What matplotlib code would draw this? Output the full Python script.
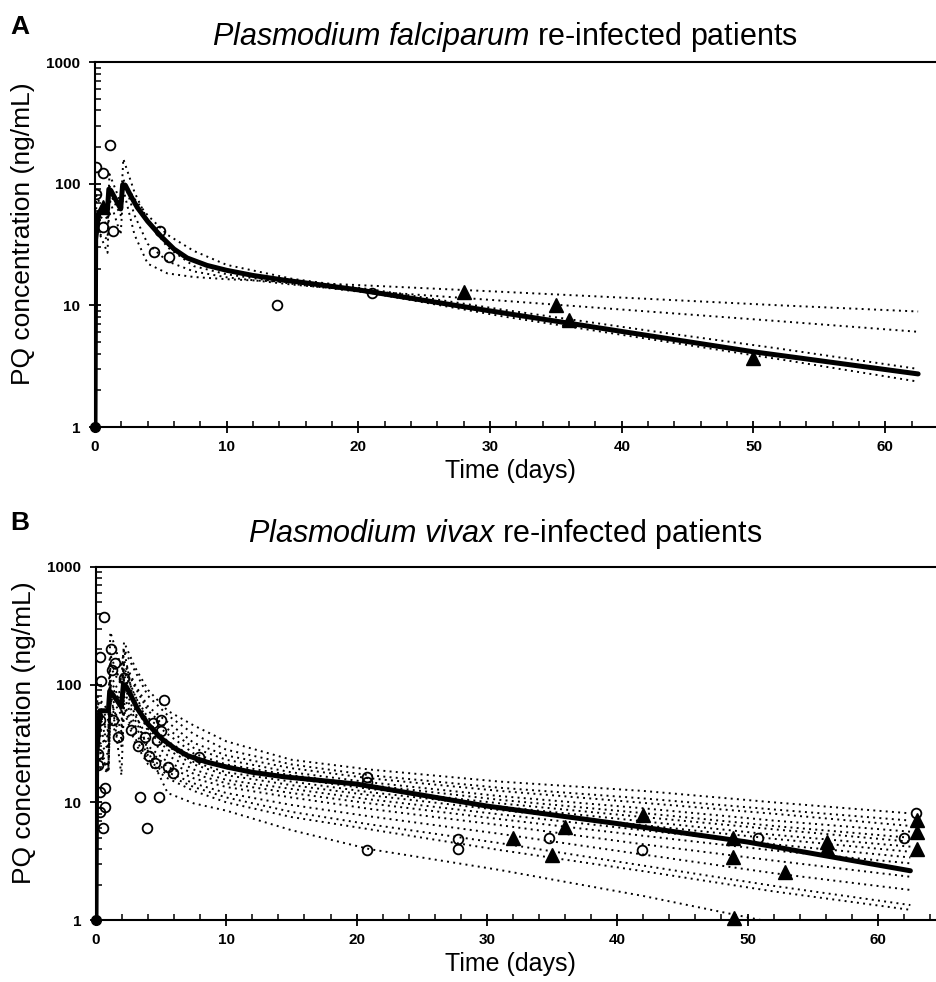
import matplotlib
matplotlib.use("Agg")
import matplotlib.pyplot as plt
from matplotlib.ticker import LogLocator, FixedLocator, NullFormatter, MultipleLocator

plt.rcParams["font.family"] = ["Liberation Sans", "DejaVu Sans"]
plt.rcParams["mathtext.fontset"] = "custom"
plt.rcParams["mathtext.it"] = "Liberation Sans:italic"
plt.rcParams["mathtext.rm"] = "Liberation Sans"

# knot times shared by the individual (dotted) curves
T_IND = [0, 0.1, 0.95, 1.1, 1.95, 2.15, 3, 4, 5.5, 7.5, 10, 15, 21, 31, 42, 52, 62.5]
# knot times for the population mean curve
T_MEAN = [0, 0.05, 0.3, 0.95, 1.05, 1.2, 1.95, 2.1, 2.3, 2.7, 3.2, 4, 5, 6, 7, 8.5,
          10, 12, 14.4, 20, 30, 40, 50, 62.5]

# ---- panel A: P. falciparum ----
A_MEAN = [1, 35, 58, 62, 90, 88, 62, 98, 97, 80, 64, 49, 37, 29, 24.5, 21.3,
          19.4, 17.6, 16.1, 13.4, 9.0, 6.1, 4.15, 2.73]
A_IND = [
    [1, 45, 27, 75, 38, 90, 38, 22, 18.3, 17.1, 16.4, 15.5, 14.5, 12.9, 11.3, 10.0, 8.9],
    [1, 80, 50, 120, 70, 110, 55, 32, 23, 19, 17, 14.8, 13.0, 10.9, 8.9, 7.4, 6.06],
    [1, 60, 45, 95, 60, 160, 85, 50, 30, 21, 18, 15, 12.6, 8.1, 5.3, 3.6, 2.36],
    [1, 40, 35, 85, 55, 105, 75, 55, 38, 28, 21.5, 16.5, 13.5, 9.2, 6.2, 4.4, 3.0],
]
A_CIRC_T = [0.1, 0.1, 0.6, 1.14, 0.6, 1.4, 4.9, 4.5, 5.6, 13.8, 21]
A_CIRC_C = [138, 83, 122, 207, 44, 41, 41, 27.5, 25, 10, 12.6]
A_TRI_T = [0.6, 28, 35, 36, 50]
A_TRI_C = [64, 12.9, 10, 7.6, 3.7]

# ---- panel B: P. vivax ----
B_MEAN = [1, 25, 60, 60, 88, 85, 65, 100, 97, 80, 62, 46, 35, 29, 25, 22,
          20, 18, 16.5, 14.3, 9.3, 6.6, 4.6, 2.62]
B_IND = [
    [1, 70, 50, 150, 110, 230, 140, 90, 60, 45, 33, 23, 19, 15, 12.5, 10, 8.06],
    [1, 80, 60, 280, 140, 200, 130, 80, 55, 38, 28, 21, 17, 13.3, 10.8, 8.7, 7.0],
    [1, 50, 35, 110, 70, 160, 100, 65, 48, 32, 25, 19.5, 16, 12.5, 9.9, 8.0, 6.3],
    [1, 60, 40, 180, 100, 150, 95, 60, 42, 29, 23, 18, 14.8, 11.3, 8.9, 7.0, 5.63],
    [1, 40, 28, 90, 60, 130, 80, 52, 38, 26, 21, 17, 14, 10.5, 8.1, 6.3, 5.0],
    [1, 55, 40, 120, 80, 140, 80, 48, 33, 24, 19.5, 16, 13, 9.8, 7.5, 5.9, 4.63],
    [1, 35, 25, 80, 55, 110, 65, 42, 30, 22, 18, 15, 12.2, 9.2, 6.9, 5.3, 4.2],
    [1, 45, 30, 100, 70, 120, 70, 40, 28, 21, 17, 14, 11.5, 8.6, 6.4, 4.9, 3.8],
    [1, 30, 20, 70, 45, 100, 55, 35, 25, 19, 15.5, 13, 10.6, 7.9, 5.8, 4.4, 3.4],
    [1, 25, 18, 95, 60, 90, 50, 30, 22, 17.5, 14.5, 12, 9.8, 7.2, 5.2, 3.9, 3.03],
    [1, 40, 30, 75, 40, 80, 45, 28, 20, 16, 13.5, 11, 8.8, 6.4, 4.4, 3.2, 2.33],
    [1, 20, 18, 60, 35, 70, 40, 25, 18, 14.5, 12, 9.5, 7.6, 5.4, 3.6, 2.5, 1.8],
    [1, 30, 18, 95, 17, 65, 35, 23, 17, 13.5, 11, 8.3, 6.5, 4.5, 2.9, 1.95, 1.34],
    [1, 25, 20, 50, 30, 60, 32, 21, 16, 12.5, 10, 7.5, 5.9, 3.93, 2.6, 1.75, 1.22],
    [1, 45, 35, 140, 100, 200, 60, 27, 12, 9.8, 8.5, 5.8, 4.0, 2.66, 1.6, 0.95, 0.55],
]
B_CIRC_T = [0.64, 0.3, 1.15, 1.2, 1.46, 0.38, 0.05, 1.3, 0.3, 2.15, 1.7, 2.7, 3.25, 3.76,
            4.1, 4.66, 4.4, 5.0, 5.2, 5.0, 5.5, 5.9, 4.5, 7.9, 3.4, 4.8, 3.9, 0.5, 0.7,
            0.3, 0.7, 0.3, 0.18, 0.18, 20.8, 20.8, 20.8, 27.8, 27.8, 34.8, 41.9, 50.8, 62, 62.9]
B_CIRC_C = [377, 173, 200, 133, 152, 108, 54, 50, 50, 114, 36, 41, 30, 36,
            25, 34, 47, 50, 74, 40, 20, 17.8, 21.7, 24.3, 11.2, 11.2, 6.0, 6.0, 9.2,
            8.3, 13.2, 12.3, 20.7, 26, 16.5, 15, 3.9, 4.9, 4.0, 4.95, 3.9, 4.95, 4.95, 8.05]
B_TRI_T = [32.0, 35.0, 36.0, 42.0, 48.9, 48.9, 49.0, 52.9, 56.1, 56.1, 63.0, 63.0, 63.0]
B_TRI_C = [4.95, 3.6, 6.2, 7.8, 4.95, 3.45, 1.03, 2.57, 4.6, 4.06, 7.07, 5.6, 4.0]

W, H = 937, 982


def draw_panel(ax, mean, ind, circ_t, circ_c, tri_t, tri_c, xmax, title, title_pad):
    for curve in ind:
        ax.plot(T_IND, curve, color="black", lw=1.4, ls=(0, (1, 2.2)))
    ax.plot(T_MEAN, mean, color="black", lw=3.6, solid_capstyle="round",
            solid_joinstyle="round")
    ax.plot(circ_t, circ_c, "o", ms=7, mfc="none", mec="black", mew=1.3)
    ax.plot(tri_t, tri_c, "^", ms=10, color="black", clip_on=False)
    ax.plot([0], [1], "o", ms=7, color="black", clip_on=False, zorder=5)

    ax.set_yscale("log")
    ax.set_ylim(1, 1000)
    ax.set_xlim(0, xmax)
    ax.yaxis.set_major_locator(FixedLocator([1, 10, 100, 1000]))
    ax.set_yticklabels(["1", "10", "100", "1000"])
    ax.yaxis.set_minor_locator(LogLocator(base=10, subs=range(2, 10)))
    ax.yaxis.set_minor_formatter(NullFormatter())
    ax.xaxis.set_major_locator(MultipleLocator(10))
    ax.xaxis.set_minor_locator(MultipleLocator(2))

    ax.spines["right"].set_visible(False)
    for s in ["left", "bottom", "top"]:
        ax.spines[s].set_linewidth(1.5)
    ax.tick_params(which="major", direction="inout", length=9, width=1.3,
                   labelsize=11, top=False, right=False)
    ax.tick_params(axis="x", which="major", pad=5)
    ax.tick_params(axis="y", which="major", pad=6)
    ax.tick_params(which="minor", direction="in", length=4, width=1.1,
                   top=False, right=False)
    for lab in ax.get_xticklabels() + ax.get_yticklabels():
        lab.set_fontweight("bold")

    # axis label placed 32 px below the x axis, slightly left of centre
    ax_h = ax.get_position().height * H
    ax.set_xlabel("Time (days)", fontsize=18)
    ax.xaxis.set_label_coords(0.493, -32 / ax_h)
    ax.set_ylabel("PQ concentration (ng/mL)", fontsize=19)
    ax.yaxis.set_label_coords(-0.071, 0.53)
    ax.set_title(title, fontsize=22, pad=title_pad, x=0.487)


fig = plt.figure(figsize=(W / 100, H / 100), dpi=100)

axA = fig.add_axes([95 / W, 1 - 427 / H, 1 - 95 / W, (427 - 62) / H])
draw_panel(axA, A_MEAN, A_IND, A_CIRC_T, A_CIRC_C, A_TRI_T, A_TRI_C,
           (W - 95) / 13.17,
           r"$\mathit{Plasmodium\ falciparum}$ re-infected patients", 12)

axB = fig.add_axes([96 / W, 1 - 920 / H, 1 - 96 / W, (920 - 567) / H])
draw_panel(axB, B_MEAN, B_IND, B_CIRC_T, B_CIRC_C, B_TRI_T, B_TRI_C,
           (W - 96) / 13.03,
           r"$\mathit{Plasmodium\ vivax}$ re-infected patients", 18)

fig.text(10 / W, 1 - 27 / H, "A", fontsize=19, fontweight="bold", va="center")
fig.text(10 / W, 1 - 523 / H, "B", fontsize=19, fontweight="bold", va="center")

fig.savefig("out.png", dpi=100)
